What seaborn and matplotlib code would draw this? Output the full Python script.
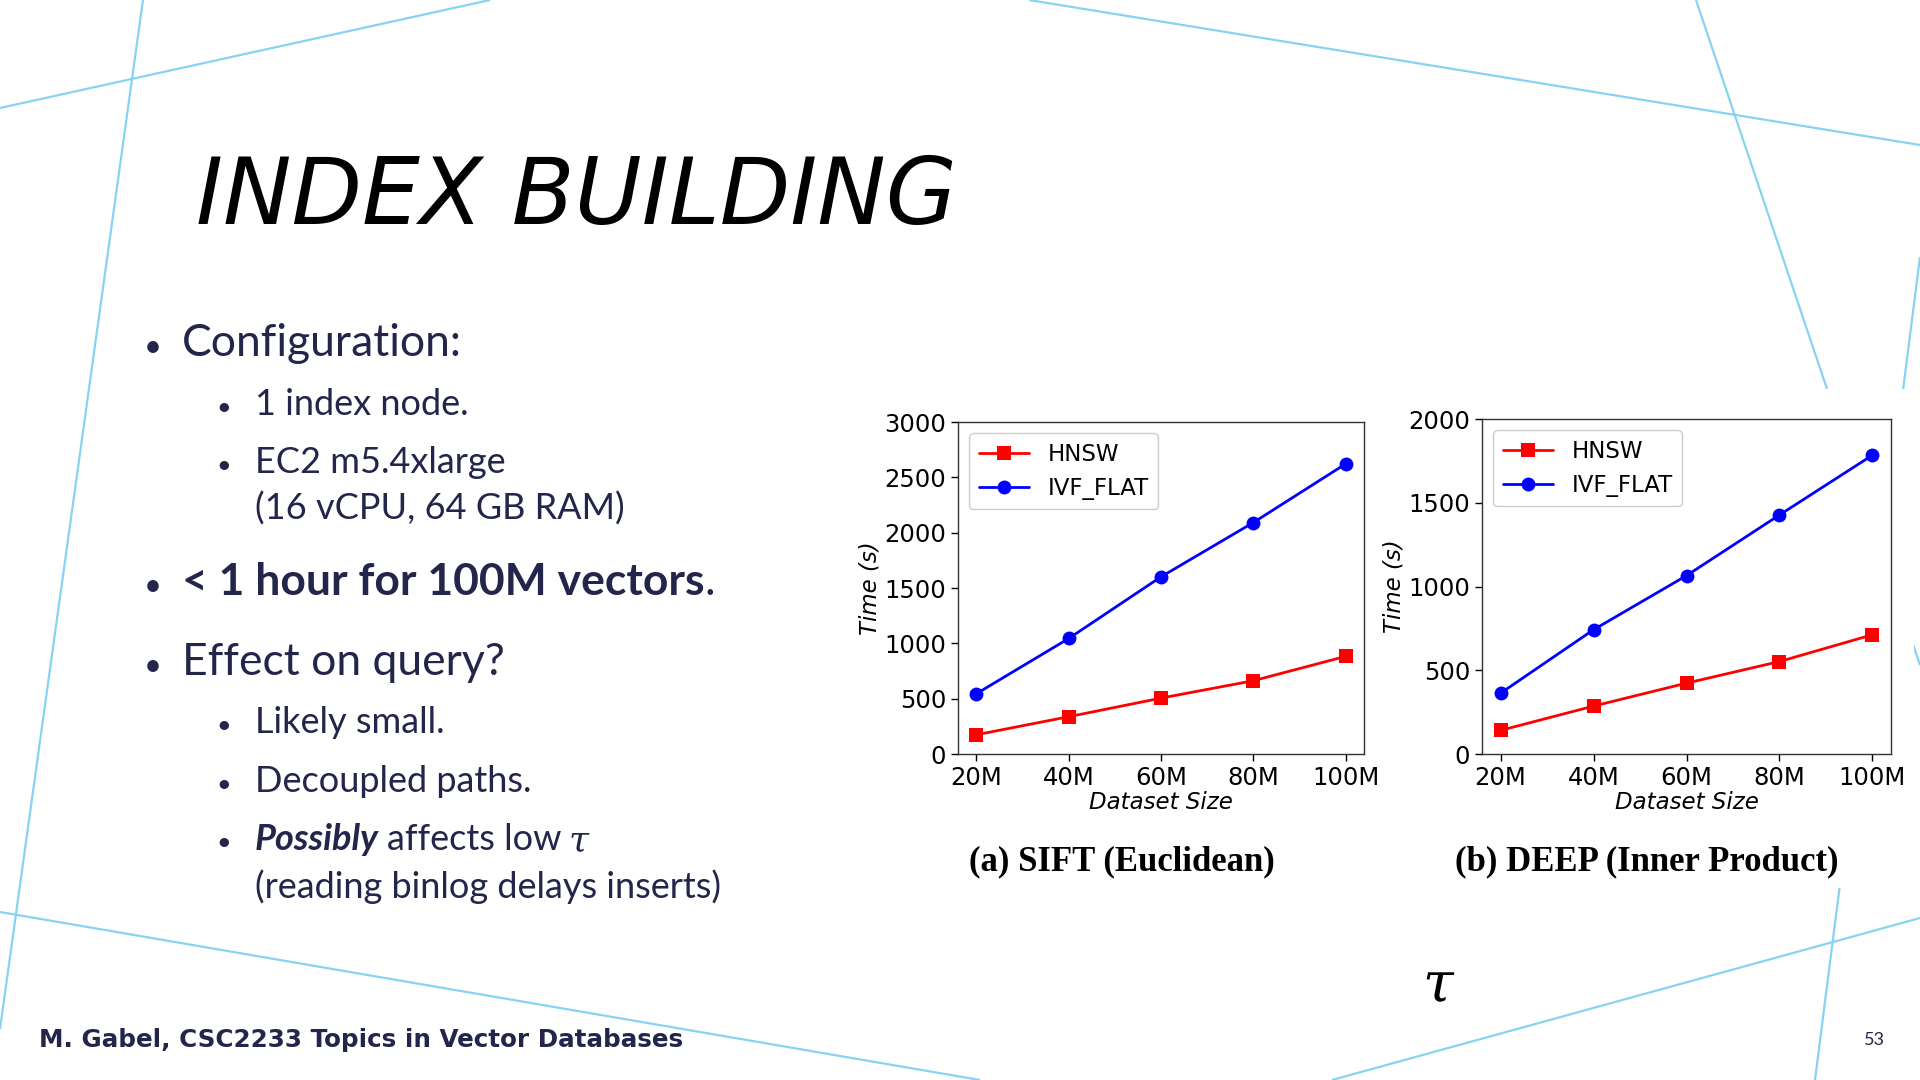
import numpy as np
import pandas as pd
import seaborn as sns
from matplotlib import pyplot as plt
from matplotlib.patches import Rectangle

# data (build time in seconds)
sizes = [20, 40, 60, 80, 100]
size_labels = ["20M", "40M", "60M", "80M", "100M"]
sift_hnsw = [174, 337, 505, 662, 882]
sift_ivf = [545, 1044, 1601, 2091, 2621]
deep_hnsw = [141, 286, 423, 552, 712]
deep_ivf = [363, 742, 1065, 1427, 1784]
sift_yticks = [0, 500, 1000, 1500, 2000, 2500, 3000]
deep_yticks = [0, 500, 1000, 1500, 2000]

sns.set_style("ticks", rc={"axes.edgecolor": "0.2", "text.color": "black",
                           "xtick.color": "black", "ytick.color": "black",
                           "axes.labelcolor": "black"})
plt.rcParams['font.family'] = ['DejaVu Sans']
plt.rcParams['mathtext.fontset'] = 'dejavuserif'

navy = "#23264a"
deco = "#86d3f2"

fig = plt.figure(figsize=(19.2, 10.8), dpi=100)
fig.patch.set_facecolor("white")

# background layer in pixel units
bg = fig.add_axes([0, 0, 1, 1])
bg.set_xlim(0, 1920)
bg.set_ylim(1080, 0)
bg.axis("off")

# decorative slide lines
deco_lines = [((0, 108), (490, 0)), ((143, 0), (0, 1029)), ((0, 912), (980, 1080)),
              ((1029, 0), (1920, 145)), ((1696, 0), (1920, 665)),
              ((1920, 257), (1815, 1080)), ((1332, 1080), (1920, 918))]
for (x0, y0), (x1, y1) in deco_lines:
    bg.plot([x0, x1], [y0, y1], color=deco, lw=1.6, zorder=1, solid_capstyle="butt")
# the pasted figure hides the lines behind it
bg.add_patch(Rectangle((860, 389), 1054, 499, facecolor="white", edgecolor="none", zorder=2))

bg.text(196, 224, "INDEX BUILDING", family="DejaVu Sans", style="italic",
        fontsize=66, color="black", va="baseline", zorder=3)

renderer = fig.canvas.get_renderer()


def runs(x, y, pieces, size, gap=0.0):
    for txt, kw in pieces:
        opts = dict(family="Lato", color=navy, fontsize=size, va="baseline", zorder=3)
        opts.update(kw)
        t = bg.text(x, y, txt, **opts)
        x += t.get_window_extent(renderer).width + gap * size


main_size = 32
sub_size = 26
bullets = [
    (153, 182, 356, [("Configuration:", {})], main_size, True),
    (224, 255, 415, [("1 index node.", {})], sub_size, True),
    (224, 255, 473, [("EC2 m5.4xlarge", {})], sub_size, True),
    (224, 255, 520, [("(16 vCPU, 64 GB RAM)", {})], sub_size, False),
    (153, 182, 595, [("< 1 hour for 100M vectors", {"weight": "bold"}), (".", {})], main_size, True),
    (153, 182, 675, [("Effect on query?", {})], main_size, True),
    (224, 255, 733, [("Likely small.", {})], sub_size, True),
    (224, 255, 792, [("Decoupled paths.", {})], sub_size, True),
    (224, 255, 850, [("Possibly", {"weight": "bold", "style": "italic"}),
                     ("affects low", {}),
                     ("τ", {"family": "DejaVu Serif", "style": "italic"})], sub_size, True),
    (224, 255, 898, [("(reading binlog delays inserts)", {})], sub_size, False),
]
for bx, tx, y, pieces, size, dot in bullets:
    if dot:
        bg.text(bx, y, "•", family="Lato", color=navy, fontsize=size * 0.7,
                ha="center", va="baseline", zorder=3)
    gap = 0.3 if len(pieces) > 2 else 0.0
    runs(tx, y, pieces, size, gap)

bg.text(39, 1047, "M. Gabel, CSC2233 Topics in Vector Databases", family="DejaVu Sans",
        weight="bold", fontsize=17.7, color=navy, va="baseline", zorder=3)
bg.text(1864, 1045, "53", family="Lato", fontsize=13, color=navy, va="baseline", zorder=3)
bg.text(1439, 986, r"$\tau$", fontsize=40, color="black", ha="center", va="center", zorder=3)


def draw_panel(rect, hnsw, ivf, yticks, caption, cap_x):
    ax = fig.add_axes(rect)
    sns.lineplot(x=sizes, y=hnsw, color="red", marker="s", markersize=10, markeredgewidth=0,
                 linewidth=2, label="HNSW", ax=ax)
    sns.lineplot(x=sizes, y=ivf, color="blue", marker="o", markersize=10, markeredgewidth=0,
                 linewidth=2, label="IVF_FLAT", ax=ax)
    ax.set_xticks(sizes, size_labels)
    ax.set_ylim(0, max(yticks))
    ax.set_yticks(yticks)
    ax.tick_params(labelsize=17.5, length=5, width=1)
    ax.set_xlabel("Dataset Size", fontsize=16.5, style="italic", labelpad=1)
    ax.set_ylabel("Time (s)", fontsize=16.5, style="italic", labelpad=2)
    ax.legend(loc="upper left", fontsize=16.5, handlelength=2.2, frameon=True,
              fancybox=True, edgecolor="0.8", framealpha=1)
    for s in ax.spines.values():
        s.set_linewidth(1)
    bg.text(cap_x, 862, caption, family="Liberation Serif", weight="bold", fontsize=25,
            color="black", ha="center", va="center", zorder=3)
    return ax


draw_panel([958 / 1920, 1 - 754 / 1080, 406 / 1920, 332 / 1080],
           sift_hnsw, sift_ivf, sift_yticks, "(a) SIFT (Euclidean)", 1122)
draw_panel([1482 / 1920, 1 - 754 / 1080, 409 / 1920, 335 / 1080],
           deep_hnsw, deep_ivf, deep_yticks, "(b) DEEP (Inner Product)", 1647)

fig.savefig("out.png", dpi=100, facecolor="white")
